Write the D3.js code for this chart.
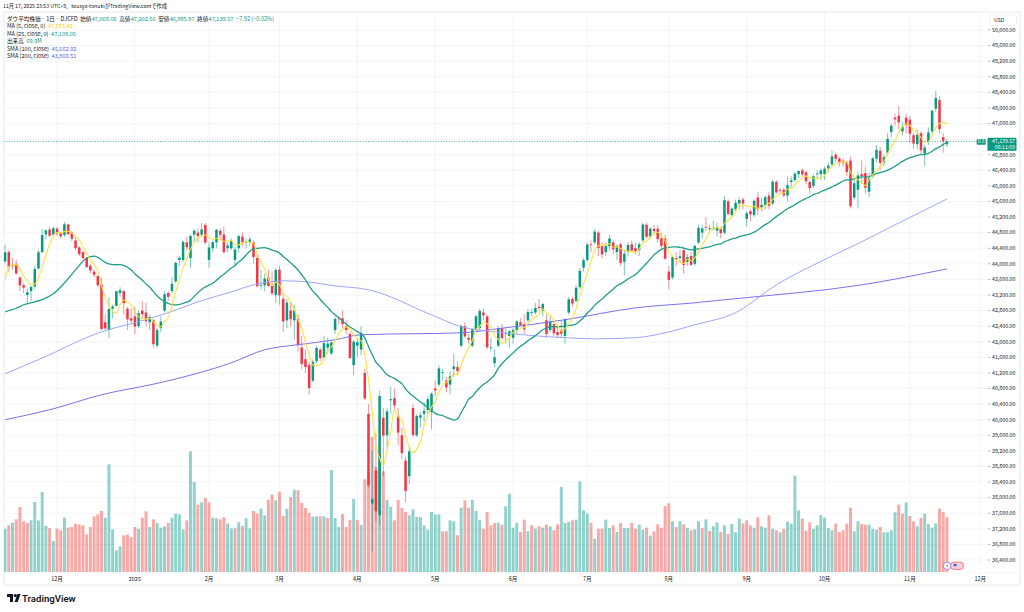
<!DOCTYPE html>
<html>
<head>
<meta charset="utf-8">
<script src="https://cdn.jsdelivr.net/npm/d3@7"></script>
<style>
  html, body { margin: 0; padding: 0; background: #fff; }
  svg { display: block; font-family: "Noto Sans CJK JP", "Noto Sans", sans-serif; }
</style>
</head>
<body>
<svg id="chart" width="1024" height="612"></svg>
<script>
// ---- data (DJCFD, daily) ----
const dates = [
  '2024-11-11','2024-11-12','2024-11-13','2024-11-14','2024-11-15','2024-11-18','2024-11-19','2024-11-20','2024-11-21','2024-11-22','2024-11-25','2024-11-26','2024-11-27','2024-11-29',
  '2024-12-02','2024-12-03','2024-12-04','2024-12-05','2024-12-06','2024-12-09','2024-12-10','2024-12-11','2024-12-12','2024-12-13','2024-12-16','2024-12-17','2024-12-18','2024-12-19','2024-12-20','2024-12-23','2024-12-24','2024-12-26','2024-12-27','2024-12-30','2024-12-31',
  '2025-01-02','2025-01-03','2025-01-06','2025-01-07','2025-01-08','2025-01-10','2025-01-13','2025-01-14','2025-01-15','2025-01-16','2025-01-17','2025-01-21','2025-01-22','2025-01-23','2025-01-24','2025-01-27','2025-01-28','2025-01-29','2025-01-30','2025-01-31',
  '2025-02-03','2025-02-04','2025-02-05','2025-02-06','2025-02-07','2025-02-10','2025-02-11','2025-02-12','2025-02-13','2025-02-14','2025-02-18','2025-02-19','2025-02-20','2025-02-21','2025-02-24','2025-02-25','2025-02-26','2025-02-27','2025-02-28',
  '2025-03-03','2025-03-04','2025-03-05','2025-03-06','2025-03-07','2025-03-10','2025-03-11','2025-03-12','2025-03-13','2025-03-14','2025-03-17','2025-03-18','2025-03-19','2025-03-20','2025-03-21','2025-03-24','2025-03-25','2025-03-26','2025-03-27','2025-03-28','2025-03-31',
  '2025-04-01','2025-04-02','2025-04-03','2025-04-04','2025-04-07','2025-04-08','2025-04-09','2025-04-10','2025-04-11','2025-04-14','2025-04-15','2025-04-16','2025-04-17','2025-04-21','2025-04-22','2025-04-23','2025-04-24','2025-04-25','2025-04-28','2025-04-29','2025-04-30',
  '2025-05-01','2025-05-02','2025-05-05','2025-05-06','2025-05-07','2025-05-08','2025-05-09','2025-05-12','2025-05-13','2025-05-14','2025-05-15','2025-05-16','2025-05-19','2025-05-20','2025-05-21','2025-05-22','2025-05-23','2025-05-27','2025-05-28','2025-05-29','2025-05-30',
  '2025-06-02','2025-06-03','2025-06-04','2025-06-05','2025-06-06','2025-06-09','2025-06-10','2025-06-11','2025-06-12','2025-06-13','2025-06-16','2025-06-17','2025-06-18','2025-06-20','2025-06-23','2025-06-24','2025-06-25','2025-06-26','2025-06-27','2025-06-30',
  '2025-07-01','2025-07-02','2025-07-03','2025-07-07','2025-07-08','2025-07-09','2025-07-10','2025-07-11','2025-07-14','2025-07-15','2025-07-16','2025-07-17','2025-07-18','2025-07-21','2025-07-22','2025-07-23','2025-07-24','2025-07-25','2025-07-28','2025-07-29','2025-07-30','2025-07-31',
  '2025-08-01','2025-08-04','2025-08-05','2025-08-06','2025-08-07','2025-08-08','2025-08-11','2025-08-12','2025-08-13','2025-08-14','2025-08-15','2025-08-18','2025-08-19','2025-08-20','2025-08-21','2025-08-22','2025-08-25','2025-08-26','2025-08-27','2025-08-28','2025-08-29',
  '2025-09-02','2025-09-03','2025-09-04','2025-09-05','2025-09-08','2025-09-09','2025-09-10','2025-09-11','2025-09-12','2025-09-15','2025-09-16','2025-09-17','2025-09-18','2025-09-19','2025-09-22','2025-09-23','2025-09-24','2025-09-25','2025-09-26','2025-09-29','2025-09-30',
  '2025-10-01','2025-10-02','2025-10-03','2025-10-06','2025-10-07','2025-10-08','2025-10-09','2025-10-10','2025-10-13','2025-10-14','2025-10-15','2025-10-16','2025-10-17','2025-10-20','2025-10-21','2025-10-22','2025-10-23','2025-10-24','2025-10-27','2025-10-28','2025-10-29','2025-10-30','2025-10-31',
  '2025-11-03','2025-11-04','2025-11-05','2025-11-06','2025-11-07','2025-11-10','2025-11-11','2025-11-12','2025-11-13','2025-11-14','2025-11-17'
];
// empty bars to the right of the last candle (only used for spacing / the 12月 label)
const futureDates = ['2025-11-18','2025-11-19','2025-11-20','2025-11-21','2025-11-24','2025-11-25','2025-11-26','2025-11-28','2025-12-01'];

// [open, high, low, close]
const candles = [
  [44060,44490,44010,44293],[44300,44350,43800,43911],[43960,44150,43850,43958],[44000,44100,43720,43751],[43650,43680,43300,43445],
  [43450,43500,43250,43390],[43200,43370,42950,43269],[43300,43420,43050,43408],[43420,43950,43350,43870],[43880,44350,43860,44297],
  [44300,44900,44280,44737],[44760,44880,44620,44861],[44880,44950,44690,44722],[44750,44960,44740,44911],
  // Dec
  [44900,44950,44710,44782],[44780,44820,44650,44705],[44740,45070,44690,45014],[45010,45030,44740,44766],[44800,44830,44580,44643],
  [44600,44680,44350,44401],[44420,44450,44200,44248],[44300,44330,44100,44149],[44150,44170,43900,43914],[43950,44000,43760,43828],
  [43800,43860,43650,43717],[43690,43700,43400,43450],[43470,43650,42300,42326],[42500,42700,42300,42342],[42300,43150,42100,42840],
  [42850,42950,42600,42907],[42920,43300,42900,43297],[43250,43400,43150,43325],[43300,43330,42700,42992],[42850,42900,42300,42573],
  [42600,42850,42450,42544],
  // Jan
  [42650,42900,42200,42392],[42400,42800,42350,42732],[42800,43050,42600,42706],[42750,43000,42400,42528],[42500,42700,42300,42635],
  [42550,42600,41850,41938],[41900,42350,41850,42297],[42350,42650,42250,42518],[42800,43300,42750,43221],[43250,43300,43050,43153],
  [43300,43650,43250,43488],[43550,44050,43500,44025],[44100,44200,43950,44156],[44100,44600,44050,44565],[44550,44700,44350,44424],
  [44150,44750,43900,44713],[44750,44900,44550,44850],[44800,44900,44550,44714],[44750,45050,44700,44882],[45000,45050,44500,44544],
  // Feb
  [44100,44550,43900,44421],[44400,44600,44300,44556],[44550,44900,44400,44873],[44850,44900,44600,44747],[44750,44950,44250,44303],
  [44400,44550,44300,44470],[44400,44650,44350,44593],[44100,44450,43950,44368],[44400,44750,44300,44711],[44700,44800,44450,44546],
  [44550,44650,44400,44556],[44550,44700,44450,44627],[44550,44600,44000,44176],[44150,44250,43400,43428],[43450,43850,43350,43461],
  [43450,43750,43300,43621],[43650,43850,43400,43433],[43450,43800,43200,43239],[43200,43900,43000,43841],
  // Mar
  [43850,43950,42950,43191],[43100,43250,42250,42521],[42550,43100,42350,43006],[42800,43000,42400,42579],[42550,42950,42050,42802],
  [42600,42700,41750,41912],[41850,42150,41300,41433],[41550,41800,41200,41350],[41400,41500,40650,40813],[41000,41550,40950,41488],
  [41500,41900,41450,41841],[41800,41850,41500,41582],[41600,42150,41550,41965],[41850,42100,41700,41953],[41700,42000,41650,41985],
  [42300,42650,42200,42583],[42600,42650,42450,42587],[42600,42800,42350,42455],[42400,42550,42200,42300],[42200,42250,41550,41584],
  [41400,42050,41150,42002],
  // Apr
  [41900,42100,41600,41990],[41800,42400,41650,42226],[41200,41300,40500,40546],[40150,40400,38250,38315],[37850,39200,36610,37966],
  [38700,39650,37400,37646],[37550,40750,37300,40608],[40050,40300,38550,39594],[39600,40300,39250,40213],[40500,40850,40150,40525],
  [40550,40800,40250,40368],[40100,40300,39350,39669],[39600,39800,39000,39142],[38950,39050,37880,38170],[38550,39300,38350,39187],
  [40300,40400,39550,39607],[39600,40150,39550,40093],[40050,40200,39800,40114],[40150,40450,39950,40228],[40250,40600,40150,40527],
  [40200,40700,39750,40669],
  // May
  [40800,41000,40600,40752],[40900,41400,40850,41317],[41200,41300,41000,41219],[41000,41100,40700,40829],[40900,41250,40650,41114],
  [41300,41700,41100,41368],[41350,41500,41150,41249],[41900,42450,41850,42410],[42400,42500,42100,42140],[42100,42200,41950,42051],
  [41900,42350,41850,42323],[42300,42700,42250,42655],[42350,42850,42300,42792],[42750,42850,42550,42677],[42650,42700,41800,41860],
  [41850,42100,41750,41859],[41450,41800,41350,41603],[41900,42400,41850,42343],[42350,42450,42050,42098],[42200,42350,41950,42216],
  [42150,42300,41850,42270],
  // Jun
  [42100,42350,41950,42305],[42300,42550,42200,42520],[42500,42600,42400,42428],[42450,42700,42200,42320],[42550,42850,42500,42763],
  [42750,42850,42650,42762],[42750,43000,42700,42867],[42900,43100,42800,42866],[42800,43000,42650,42968],[42550,42700,42100,42198],
  [42300,42650,42250,42515],[42450,42500,42150,42215],[42250,42450,42100,42172],[42300,42550,42100,42207],[42150,42600,41950,42582],
  [42750,43150,42700,43089],[43100,43150,42900,42982],[43050,43450,43000,43387],[43400,43900,43350,43819],[43900,44150,43800,44095],
  // Jul
  [44100,44550,44050,44495],[44500,44600,44300,44484],[44550,44900,44500,44829],[44800,44850,44200,44406],[44450,44550,44150,44241],
  [44300,44550,44200,44458],[44450,44750,44350,44651],[44550,44600,44250,44371],[44300,44500,44100,44460],[44500,44550,43950,44023],
  [44050,44350,43700,44255],[44300,44550,44200,44484],[44500,44600,44300,44342],[44400,44550,44250,44323],[44350,44550,44200,44502],
  [44600,45050,44550,45010],[45000,45050,44650,44694],[44700,44950,44650,44902],[44900,45000,44750,44838],[44900,45000,44550,44633],
  [44650,44800,44350,44461],[44650,44750,44100,44131],
  // Aug
  [43800,43950,43350,43589],[43650,44200,43600,44174],[44150,44300,43950,44112],[44150,44350,44050,44193],[44350,44450,43750,43969],
  [44050,44250,43950,44176],[44200,44300,43950,43975],[44000,44500,43950,44459],[44550,45000,44500,44922],[44800,45000,44650,44911],
  [44950,45200,44850,44946],[44900,45000,44800,44912],[44900,45100,44850,44922],[44850,45050,44700,44938],[44900,44950,44650,44786],
  [44800,45750,44750,45632],[45600,45650,45250,45282],[45250,45450,45200,45418],[45400,45650,45350,45565],[45550,45700,45400,45637],
  [45650,45700,45400,45545],
  // Sep
  [45150,45350,44950,45296],[45350,45400,45100,45271],[45250,45650,45200,45621],[45700,45850,45250,45401],[45450,45700,45350,45515],
  [45500,45750,45400,45711],[45750,45850,45400,45490],[45550,46150,45500,46108],[46100,46150,45800,45834],[45900,45950,45800,45883],
  [45900,45950,45700,45758],[45750,46250,45600,46018],[46100,46250,45950,46142],[46150,46350,46100,46315],[46300,46400,46200,46382],
  [46400,46450,46250,46292],[46350,46400,46050,46121],[46100,46150,45800,45947],[46000,46300,45950,46247],[46300,46400,46200,46316],
  [46300,46450,46150,46398],
  // Oct
  [46300,46500,46150,46441],[46450,46600,46350,46519],[46550,46900,46500,46758],[46800,46850,46600,46695],[46700,46750,46500,46603],
  [46650,46700,46500,46602],[46600,46650,46250,46358],[46650,46750,45420,45480],[45700,46150,45650,46068],[45900,46350,45420,46270],
  [46300,46650,46050,46253],[46330,46500,45800,45952],[45850,46350,45700,46191],[46250,46750,46200,46707],[46700,47050,46600,46924],
  [46900,47000,46400,46590],[46600,46800,46500,46735],[46850,47350,46800,47207],[47380,47600,47250,47545],[47750,47850,47550,47706],
  [47800,48050,47450,47632],[47400,47650,47300,47522],[47750,47850,47350,47563],
  // Nov
  [47700,47800,47100,47337],[47300,47350,46950,47085],[47070,47450,46950,47311],[47350,47400,46800,46912],[46830,47050,46500,46987],
  [47150,47500,47050,47369],[47400,47950,47350,47928],[47980,48440,47900,48254],[48200,48300,47350,47457],[47250,47350,46850,47147],
  [47068.06,47202.56,46995.97,47139.57]
];

// volume, millions
const volumes = [
  55.4,59.6,63.0,67.3,83.1,64.8,62.6,66.0,89.5,66.0,102.2,59.2,56.2,39.6,
  55.4,53.3,69.4,56.7,57.5,61.8,60.5,59.6,48.1,57.5,71.1,73.7,78.0,69.4,137.6,54.5,27.7,32.8,46.9,47.7,44.7,
  57.5,55.4,69.4,77.5,57.5,67.3,62.6,56.7,58.4,62.6,69.4,74.6,73.7,54.5,66.0,154.2,115.0,86.1,89.0,94.6,
  89.0,69.4,68.6,67.3,69.9,61.8,55.8,55.8,63.5,59.2,68.6,55.8,78.0,74.6,80.9,72.4,92.4,98.8,91.6,
  102.7,71.6,80.9,95.9,105.2,104.4,88.2,81.8,75.8,70.7,71.1,71.1,71.1,69.0,130.4,69.0,57.5,74.1,57.5,66.5,93.3,
  66.5,60.1,118.5,127.8,172.5,134.2,150.8,128.7,92.4,83.1,66.1,92.4,81.8,76.7,72.5,80.1,70.3,70.3,59.7,54.1,76.7,
  73.7,73.7,52.0,52.0,66.1,64.8,46.9,82.2,91.6,82.2,92.4,78.0,66.8,55.3,76.7,59.6,62.6,63.0,60.5,83.9,100.1,
  56.7,63.0,51.1,66.9,52.0,59.6,55.4,58.4,56.7,60.5,58.4,53.3,60.9,108.6,62.6,63.9,66.0,66.9,115.9,78.8,
  74.6,63.0,42.6,55.4,55.4,66.9,56.2,59.6,51.1,62.6,56.2,56.2,62.6,55.4,60.5,54.1,56.7,46.4,52.0,60.9,56.7,84.3,
  87.8,64.8,57.5,64.8,60.9,56.2,53.3,54.5,64.8,56.2,67.3,52.4,58.4,63.5,51.1,59.6,49.0,61.3,50.7,68.2,62.2,
  66.0,59.6,56.7,69.9,58.4,56.7,72.4,55.4,53.3,50.7,55.4,64.3,61.8,123.1,78.8,68.2,52.8,63.5,55.4,59.6,72.8,
  69.4,56.2,53.3,61.8,51.1,53.3,61.8,82.2,52.0,64.8,61.3,60.5,60.5,55.4,54.1,57.5,50.7,50.7,53.3,76.3,86.1,74.6,89.0,
  71.6,64.8,58.4,69.0,74.6,61.3,56.7,62.2,80.9,76.7,69.9
];

// indicator values where the window reaches back before the first visible bar
const ma5Lead = [43600, 43930, 43975, 43980];
const ma25Lead = [[0,42770],[3,42860],[5,42950],[8,43025],[10,43080],[13,43230],[16,43510],[19,43845],[22,44150]];
const sma100Pts = [[0,41180],[9,41540],[26,42255],[36,42515],[44,42745],[52,43025],[61,43280],[67,43460],[75,43565],
  [81,43540],[89,43435],[98,43335],[115,42690],[123,42385],[132,42255],[151,42105],[159,42075],[170,42105],[178,42230],
  [186,42435],[197,42745],[208,43460],[222,44155],[231,44565],[240,45000],[254,45663]];
const sma200Pts = [[0,40000],[12,40255],[26,40640],[43,40975],[61,41460],[70,41795],[79,41925],[89,42050],[96,42180],
  [123,42230],[133,42335],[151,42565],[170,42870],[186,43000],[197,43105],[231,43460],[254,43870]];

const priceTicks = [36400,36800,37200,37600,38000,38400,38800,39200,39600,40000,40400,40800,41200,41600,42000,42400,
  42800,43200,43600,44000,44400,44800,45200,45600,46000,46400,46800,47200,47600,48000,48400,48800,49200,49600,50000];
const monthTicks = [['2024-12-02','12月'],['2025-01-02','2025'],['2025-02-03','2月'],['2025-03-03','3月'],['2025-04-01','4月'],
  ['2025-05-01','5月'],['2025-06-02','6月'],['2025-07-01','7月'],['2025-08-01','8月'],['2025-09-02','9月'],['2025-10-01','10月'],
  ['2025-11-03','11月'],['2025-12-01','12月']];

const headerText = '11月 17, 2025 23:53 UTC+9、tousyo-tanukiがTradingView.comで作成';
const symbolText = 'ダウ平均株価 · 1日 · DJCFD';
const ohlcLabels = ['始値', '高値', '安値', '終値'];
const changeText = '−7.92 (−0.02%)';
const indicatorLegend = [
  ['MA (5, close, 0)', '47,585.42', '#f2cf1d'],
  ['MA (25, close, 0)', '47,109.05', '#089981'],
  ['出来高', '69.9M', '#089981'],
  ['SMA (100, close)', '45,662.92', '#5b63f0'],
  ['SMA (200, close)', '43,869.51', '#5b63f0'],
];

// ---- layout ----
const UP = '#089981', DOWN = '#f23645';
const plot = { left: 4, right: 988, top: 12, bottom: 573 };
const FS_HEAD = 5.2, FS = 5.6;
const svg = d3.select('#chart');

const x = d3.scalePoint().domain(dates.concat(futureDates)).range([5.1, 980.3]);
const y = d3.scaleLinear().domain([36400, 50000]).range([560, 30]);
const yVol = d3.scaleLinear().domain([0, 100]).range([572, 493.75]);
const step = x.step();

svg.append('defs').append('clipPath').attr('id', 'plotClip')
  .append('rect')
  .attr('x', plot.left).attr('y', plot.top)
  .attr('width', plot.right - plot.left).attr('height', plot.bottom - plot.top);

// frame
svg.append('rect')
  .attr('x', plot.left).attr('y', plot.top)
  .attr('width', 1020 - plot.left).attr('height', 585 - plot.top)
  .attr('fill', 'none').attr('stroke', '#e0e3eb').attr('stroke-width', 0.7);
svg.append('line')
  .attr('x1', plot.left).attr('x2', 1020).attr('y1', plot.bottom).attr('y2', plot.bottom)
  .attr('stroke', '#eef0f4').attr('stroke-width', 0.6);

const chart = svg.append('g').attr('clip-path', 'url(#plotClip)');

// grid
chart.selectAll('.hgrid').data(priceTicks).join('line')
  .attr('class', 'hgrid')
  .attr('x1', plot.left).attr('x2', plot.right)
  .attr('y1', d => y(d)).attr('y2', d => y(d))
  .attr('stroke', '#f0f3fa').attr('stroke-width', 0.8);
chart.selectAll('.vgrid').data(monthTicks).join('line')
  .attr('class', 'vgrid')
  .attr('x1', d => x(d[0])).attr('x2', d => x(d[0]))
  .attr('y1', plot.top).attr('y2', plot.bottom)
  .attr('stroke', '#f0f3fa').attr('stroke-width', 0.8);

const bars = dates.map((date, i) => ({
  date, i,
  o: candles[i][0], h: candles[i][1], l: candles[i][2], c: candles[i][3],
  v: volumes[i],
}));

// volume (colour follows close vs previous close)
chart.selectAll('.vol').data(bars).join('rect')
  .attr('class', 'vol')
  .attr('x', d => x(d.date) - step * 0.4)
  .attr('width', step * 0.8)
  .attr('y', d => yVol(d.v))
  .attr('height', d => yVol(0) - yVol(d.v))
  .attr('fill', d => {
    const prev = d.i === 0 ? d.o : bars[d.i - 1].c;
    return d.c >= prev ? '#26a69a' : '#ef5350';
  })
  .attr('opacity', 0.5);

// candles
const candleColor = d => (d.c >= d.o ? UP : DOWN);
chart.selectAll('.wick').data(bars).join('line')
  .attr('class', 'wick')
  .attr('x1', d => x(d.date)).attr('x2', d => x(d.date))
  .attr('y1', d => y(d.h)).attr('y2', d => y(d.l))
  .attr('stroke', candleColor).attr('stroke-width', 0.9).attr('opacity', 0.6);
chart.selectAll('.body').data(bars).join('rect')
  .attr('class', 'body')
  .attr('x', d => x(d.date) - step * 0.34)
  .attr('width', step * 0.68)
  .attr('y', d => y(Math.max(d.o, d.c)))
  .attr('height', d => Math.max(0.8, Math.abs(y(d.o) - y(d.c))))
  .attr('fill', candleColor);

// moving averages: MA5 / MA25 follow their definition on the plotted closes
const closes = candles.map(d => d[3]);
const ma5 = dates.map((dt, i) => [i, i < 4 ? ma5Lead[i] : d3.mean(closes.slice(i - 4, i + 1))]);
const ma25 = ma25Lead.concat(d3.range(24, dates.length).map(i => [i, d3.mean(closes.slice(i - 24, i + 1))]));

const line = d3.line()
  .x(d => x(dates[d[0]]))
  .y(d => y(d[1]))
  .curve(d3.curveMonotoneX);

[[sma200Pts, '#7b72f0', 1], [sma100Pts, '#9da6fb', 1], [ma25, '#1e9f8a', 1.3], [ma5, '#fbe33c', 1.1]]
  .forEach(([pts, color, w]) => {
    chart.append('path')
      .datum(pts)
      .attr('d', line)
      .attr('fill', 'none')
      .attr('stroke', color)
      .attr('stroke-width', w)
      .attr('stroke-linejoin', 'round');
  });

// last price line
const last = bars[bars.length - 1];
const ly = y(last.c);
svg.append('line')
  .attr('x1', plot.left).attr('x2', plot.right)
  .attr('y1', ly).attr('y2', ly)
  .attr('stroke', UP).attr('stroke-width', 0.7)
  .attr('stroke-dasharray', '1,1.6');

// price axis (labels hidden where the last-price tag sits)
const visibleTicks = priceTicks.filter(d => Math.abs(y(d) - (ly + 2)) > 9);
const axis = svg.append('g');
axis.selectAll('.ptick').data(priceTicks).join('line')
  .attr('class', 'ptick')
  .attr('x1', plot.right).attr('x2', plot.right + 2.5)
  .attr('y1', d => y(d)).attr('y2', d => y(d))
  .attr('stroke', '#787b86').attr('stroke-width', 0.5);
axis.selectAll('.plabel').data(visibleTicks).join('text')
  .attr('class', 'plabel')
  .attr('x', 1015.5).attr('y', d => y(d) + 1.8)
  .attr('text-anchor', 'end')
  .attr('font-size', 5.3)
  .attr('fill', '#131722')
  .text(d => d3.format(',.2f')(d));

axis.append('rect')
  .attr('x', 990).attr('y', 15).attr('width', 26.5).attr('height', 10.5).attr('rx', 1.5)
  .attr('fill', '#fff').attr('stroke', '#e0e3eb').attr('stroke-width', 0.6);
axis.append('text')
  .attr('x', 994).attr('y', 22.2).attr('font-size', 5.2).attr('fill', '#131722').text('USD');

// last price tag
axis.append('rect')
  .attr('x', 987.5).attr('y', ly - 3.6).attr('width', 29).attr('height', 13).attr('rx', 1.2)
  .attr('fill', UP);
axis.append('text')
  .attr('x', 1015).attr('y', ly + 1.9).attr('text-anchor', 'end')
  .attr('font-size', 5.2).attr('fill', '#fff').text(d3.format(',.2f')(last.c));
axis.append('text')
  .attr('x', 1015).attr('y', ly + 7.5).attr('text-anchor', 'end')
  .attr('font-size', 5.2).attr('fill', '#fff').text('06:11:03');
axis.append('rect')
  .attr('x', 976.7).attr('y', ly - 2.4).attr('width', 9).attr('height', 5.6).attr('rx', 1)
  .attr('fill', UP);
axis.append('text')
  .attr('x', 981.2).attr('y', ly + 1.6).attr('text-anchor', 'middle')
  .attr('font-size', 4.4).attr('fill', '#fff').text('D.8');

// time axis
svg.selectAll('.tlabel').data(monthTicks).join('text')
  .attr('class', 'tlabel')
  .attr('x', d => x(d[0])).attr('y', 580.6)
  .attr('text-anchor', 'middle')
  .attr('font-size', 5.5)
  .attr('fill', '#131722')
  .text(d => d[1]);

// event markers at the bottom right
svg.append('rect').attr('x', 950.5).attr('y', 562).attr('width', 13).attr('height', 7.5).attr('rx', 3.7)
  .attr('fill', '#fbd0d4').attr('stroke', '#f23645').attr('stroke-width', 0.6);
svg.append('rect').attr('x', 953.5).attr('y', 563.8).attr('width', 3.2).attr('height', 2.4).attr('fill', '#3f6ad8');
svg.append('circle').attr('cx', 947).attr('cy', 565.8).attr('r', 3.8)
  .attr('fill', '#fff').attr('stroke', '#9c6ade').attr('stroke-width', 0.8);
svg.append('path').attr('d', 'M947.6,563.3 L945.9,566.1 H947.3 L946.6,568.4 L948.4,565.4 H947 Z').attr('fill', '#9c6ade');

// header
svg.append('text')
  .attr('x', 3).attr('y', 7.6)
  .attr('font-size', FS_HEAD).attr('fill', '#131722')
  .text(headerText);

// legend: place each piece after the previous one
function row(yPos, pieces) {
  let cx = 7;
  pieces.forEach(([txt, color, gap]) => {
    cx += gap;
    const t = svg.append('text')
      .attr('x', cx).attr('y', yPos)
      .attr('font-size', FS).attr('fill', color)
      .text(txt);
    cx += t.node().getComputedTextLength();
  });
}
const lastVals = [last.o, last.h, last.l, last.c];
const firstRow = [[symbolText, '#131722', 0]];
ohlcLabels.forEach((lab, k) => {
  firstRow.push([lab, '#131722', 2.6]);
  firstRow.push([d3.format(',.2f')(lastVals[k]), UP, 0.3]);
});
firstRow.push([changeText, UP, 2.6]);
row(20.9, firstRow);
indicatorLegend.forEach((d, k) => {
  row(27.9 + k * 7.6, [[d[0], '#131722', 0], [d[1], d[2], 2.6]]);
});

// TradingView mark
const logo = svg.append('g').attr('transform', 'translate(7,594)');
logo.append('path').attr('d', 'M0,0 H6 V8 H3 V3 H0 Z').attr('fill', '#131722');
logo.append('circle').attr('cx', 8.3).attr('cy', 1.6).attr('r', 1.6).attr('fill', '#131722');
logo.append('path').attr('d', 'M10.5,0 H13.6 L10.6,8 H7.5 Z').attr('fill', '#131722');
svg.append('text')
  .attr('x', 22).attr('y', 602)
  .attr('font-size', 9.6).attr('font-weight', 600).attr('fill', '#131722')
  .attr('font-family', 'Roboto, "Noto Sans", sans-serif')
  .text('TradingView');
</script>
</body>
</html>
